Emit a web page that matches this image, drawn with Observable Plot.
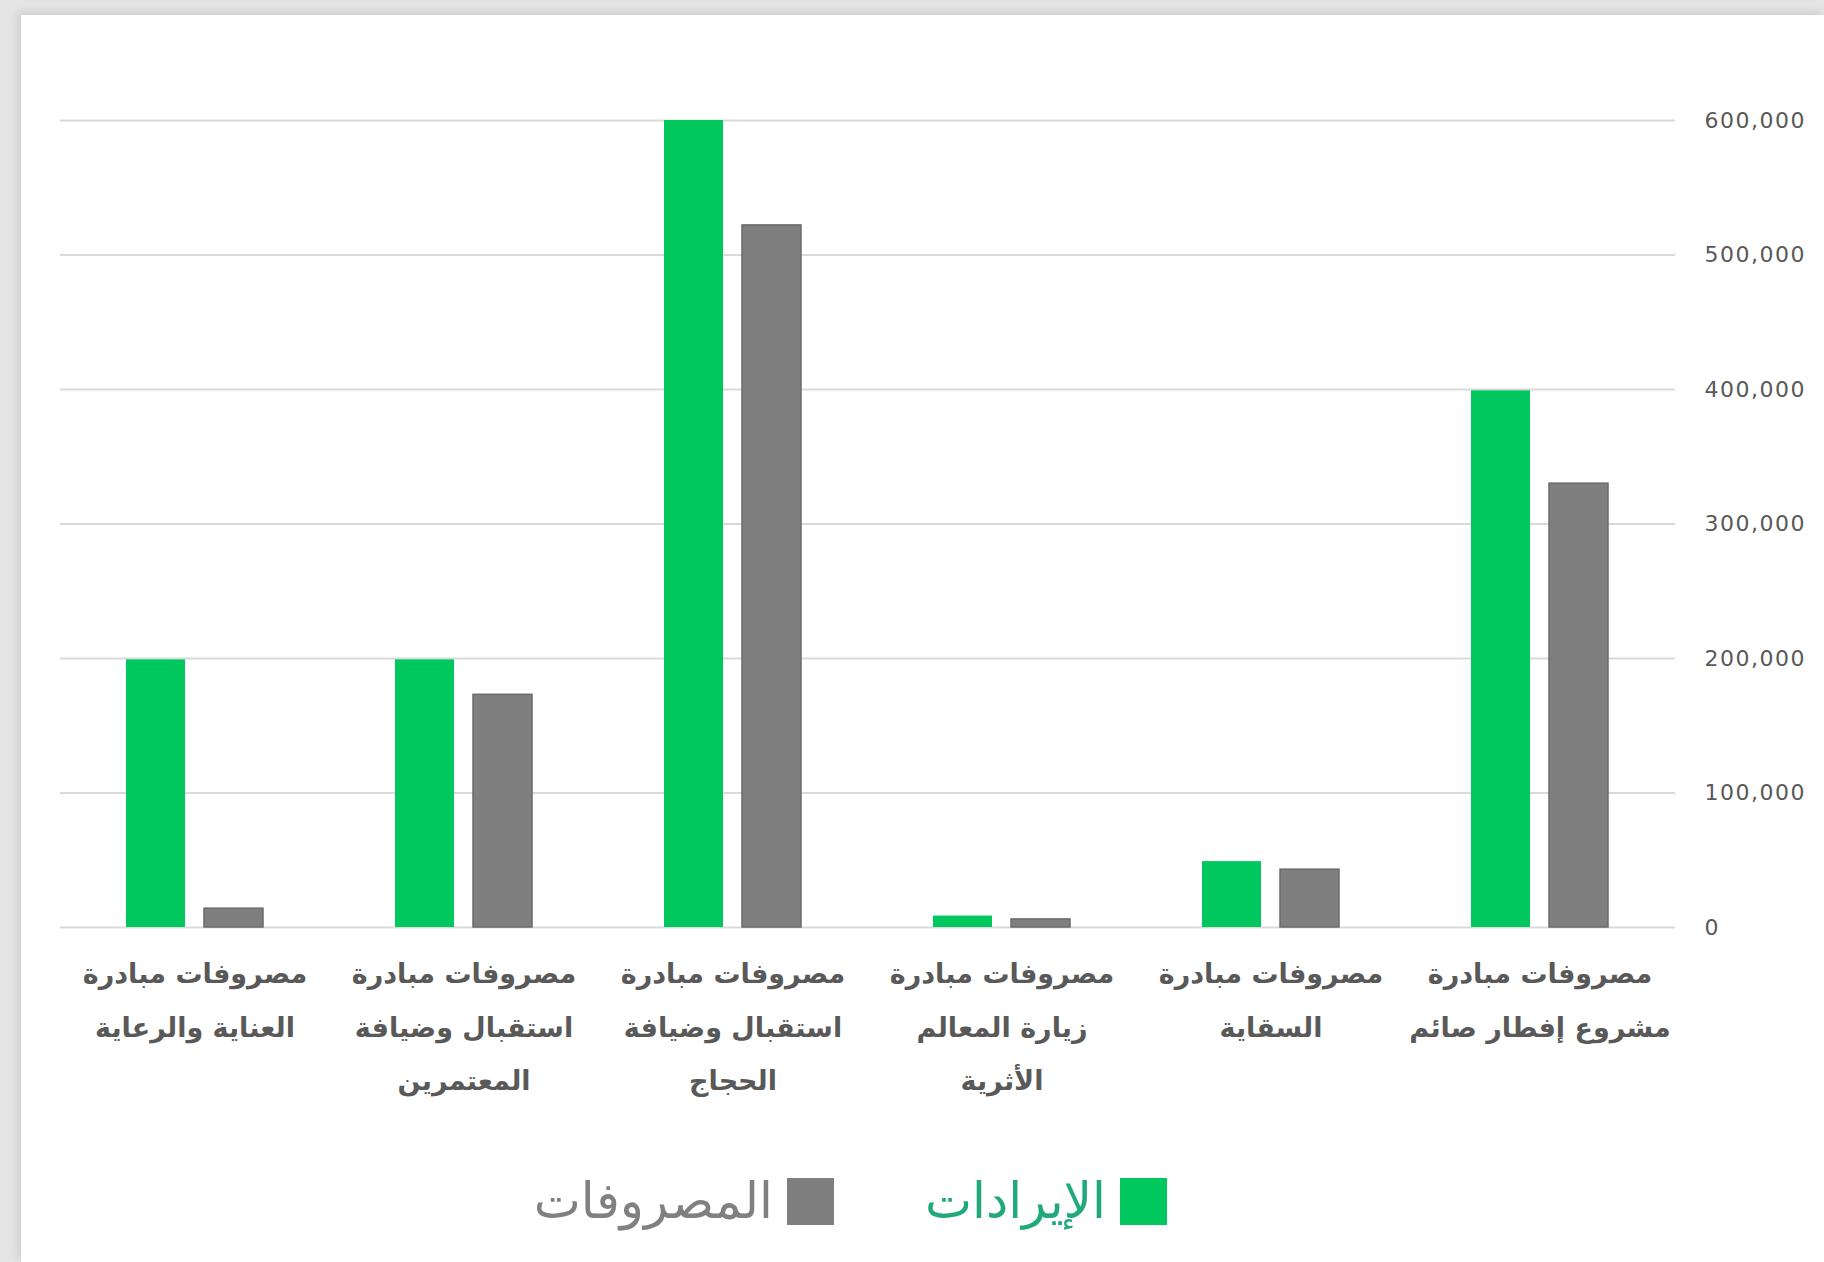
<!DOCTYPE html>
<html lang="ar">
<head>
<meta charset="utf-8">
<script src="https://cdn.jsdelivr.net/npm/d3@7"></script>
<script src="https://cdn.jsdelivr.net/npm/@observablehq/plot@0.6"></script>
<style>
  html, body { margin: 0; padding: 0; }
  body { width: 1824px; height: 1262px; background: #e4e4e4; position: relative; overflow: hidden; font-family: "DejaVu Sans", sans-serif; }
  #card { position: absolute; left: 21px; top: 15px; right: 0; bottom: 0; background: #ffffff; box-shadow: -3px -3px 8px rgba(0,0,0,0.10); }
  .layer { position: absolute; left: 0; top: 0; }
  .layer svg { overflow: visible; }
  [aria-label="fx-axis tick label"] text { font-weight: bold; fill: #595959; }
  [aria-label="y-axis tick label"] text { fill: #595959; letter-spacing: 1.5px; }
  #legend { position: absolute; top: 1178px; right: 657px; display: flex; direction: rtl; align-items: center; gap: 91px; }
  .item { display: flex; direction: rtl; align-items: center; gap: 14px; }
  .sw { width: 47px; height: 47px; }
  .lbl { font-size: 50px; line-height: 47px; font-family: "DejaVu Sans", sans-serif; }
</style>
</head>
<body>
<div id="card"></div>
<div id="grid" class="layer"></div>
<div id="bars" class="layer"></div>
<div id="legend"></div>
<script>
// Categories in reading (right-to-left) order
const categories = [
  "مصروفات مبادرة مشروع إفطار صائم",
  "مصروفات مبادرة السقاية",
  "مصروفات مبادرة زيارة المعالم الأثرية",
  "مصروفات مبادرة استقبال وضيافة الحجاج",
  "مصروفات مبادرة استقبال وضيافة المعتمرين",
  "مصروفات مبادرة العناية والرعاية"
];
const tickLabels = [
  "مصروفات مبادرة\nمشروع إفطار صائم",
  "مصروفات مبادرة\nالسقاية",
  "مصروفات مبادرة\nزيارة المعالم\nالأثرية",
  "مصروفات مبادرة\nاستقبال وضيافة\nالحجاج",
  "مصروفات مبادرة\nاستقبال وضيافة\nالمعتمرين",
  "مصروفات مبادرة\nالعناية والرعاية"
];
const series = ["الإيرادات", "المصروفات"];
const revenues = [399000, 49000, 8500, 600000, 199000, 199000];
const expenses = [330000, 43000, 6000, 522000, 173000, 14000];
const yTicks = [0, 100000, 200000, 300000, 400000, 500000, 600000];
const colors = ["#00c85f", "#7f7f7f"];
const legendTextColors = ["#22a97b", "#808080"];

const data = [];
categories.forEach((c, i) => {
  data.push({category: c, series: series[0], value: revenues[i]});
  data.push({category: c, series: series[1], value: expenses[i]});
});

const frame = {
  width: 1824,
  height: 1120,
  marginLeft: 60,
  marginRight: 149,
  marginTop: 120,
  marginBottom: 193,
  style: {background: "transparent", fontFamily: "DejaVu Sans, sans-serif", overflow: "visible"}
};

// Layer 1: horizontal gridlines and y axis (right side)
const gridPlot = Plot.plot({
  ...frame,
  y: {domain: [0, 600000], axis: null},
  marks: [
    Plot.ruleY(yTicks, {stroke: "#d9d9d9", strokeWidth: 2}),
    Plot.axisY({anchor: "right", ticks: yTicks, tickFormat: d3.format(","), tickSize: 0, tickPadding: 29, fontSize: 22, label: null})
  ]
});
document.getElementById("grid").appendChild(gridPlot);

// Layer 2: grouped bars and category axis
const barPlot = Plot.plot({
  ...frame,
  fx: {domain: categories, reverse: true, paddingInner: 0.49, paddingOuter: 0.245, label: null, axis: null},
  x: {domain: series, paddingInner: 0.25, paddingOuter: 0, axis: null},
  y: {domain: [0, 600000], axis: null},
  color: {domain: series, range: colors},
  marks: [
    Plot.barY(data, {fx: "category", x: "series", y: "value", fill: "series"}),
    Plot.barY(data, {filter: d => d.series === series[1], fx: "category", x: "series", y: "value", fill: "none", stroke: "#6b6b6b", strokeWidth: 1.5}),
    Plot.axisFx({anchor: "bottom", tickSize: 0, tickPadding: 18, fontSize: 27, lineHeight: 1.98, label: null,
      tickFormat: c => tickLabels[categories.indexOf(c)]})
  ]
});
document.getElementById("bars").appendChild(barPlot);

const legend = document.getElementById("legend");
series.forEach((s, i) => {
  const item = document.createElement("div");
  item.className = "item";
  const sw = document.createElement("div");
  sw.className = "sw";
  sw.style.background = colors[i];
  const lbl = document.createElement("div");
  lbl.className = "lbl";
  lbl.style.color = legendTextColors[i];
  lbl.textContent = s;
  item.appendChild(sw);
  item.appendChild(lbl);
  legend.appendChild(item);
});
</script>
</body>
</html>
